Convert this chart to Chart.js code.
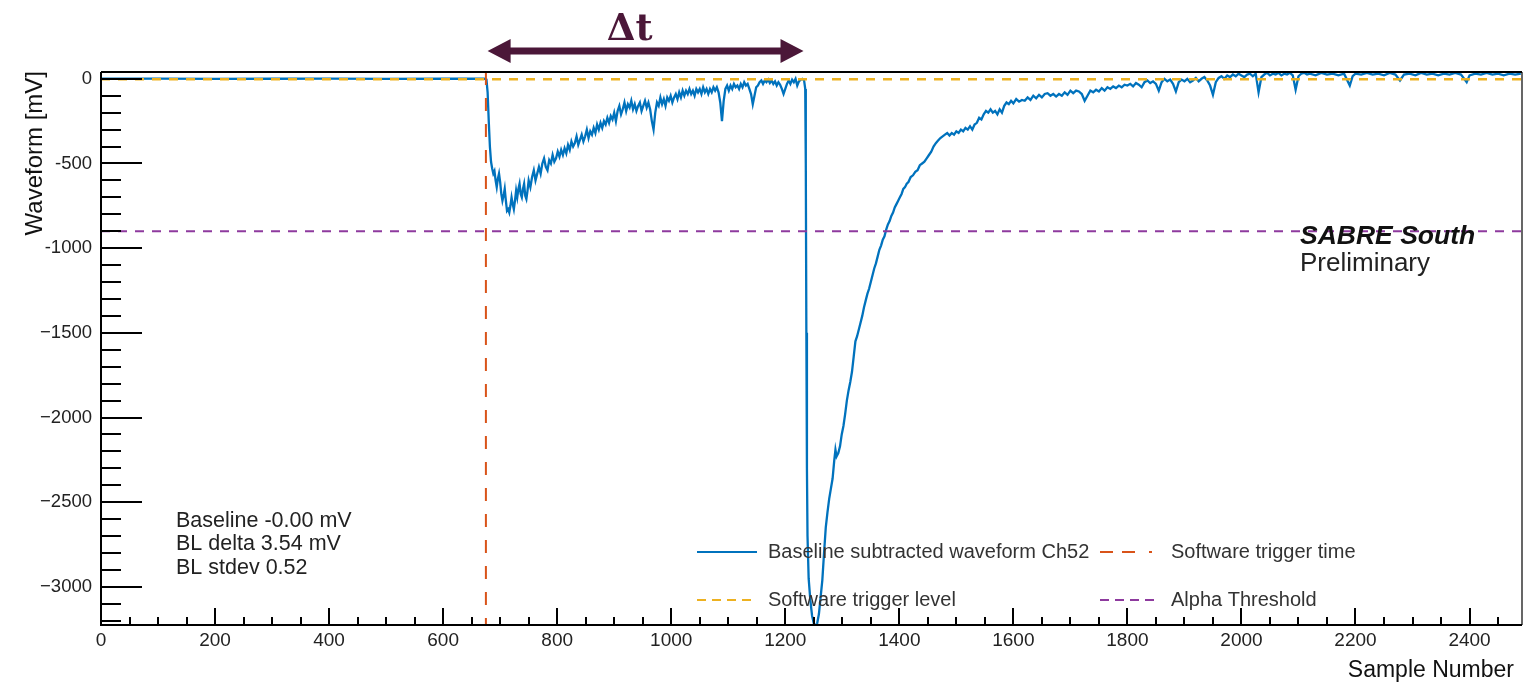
<!DOCTYPE html>
<html>
<head>
<meta charset="utf-8">
<script src="https://cdn.jsdelivr.net/npm/chart.js@4"></script>
<style>
  html, body { margin: 0; padding: 0; background: #fff; }
  canvas { display: block; }
</style>
</head>
<body>
<canvas id="wave" width="1533" height="682"></canvas>
<script>
// data: [sample, mV]
const waveform = [
  [0, 0], [100, 1], [200, -1], [300, 0], [400, 1], [500, -1], [600, 0], [672, 0], [676, -5],
  [678, -80], [680, -250], [682, -400], [684, -490], [686, -530], [688, -560], [690, -545], [692, -600],
  [694, -640], [696, -590], [698, -560], [700, -610], [702, -680], [704, -720], [706, -690], [708, -650],
  [710, -720], [712, -780], [714, -770], [716, -790], [718, -750], [720, -700], [722, -740], [724, -770],
  [726, -720], [728, -660], [730, -700], [732, -650], [734, -620], [736, -680], [738, -700], [740, -650],
  [742, -620], [744, -690], [746, -710], [748, -660], [750, -600], [753, -640], [756, -580], [759, -540],
  [762, -600], [765, -560], [768, -520], [771, -560], [774, -500], [777, -470], [780, -520], [783, -540],
  [786, -480], [789, -500], [792, -450], [795, -490], [798, -470], [801, -430], [804, -460], [807, -420],
  [810, -450], [813, -410], [816, -440], [819, -390], [822, -420], [825, -370], [828, -400], [831, -380],
  [834, -340], [837, -390], [840, -360], [843, -330], [846, -370], [849, -340], [852, -300], [855, -350],
  [858, -310], [861, -330], [864, -290], [867, -320], [870, -270], [873, -300], [876, -260], [879, -290],
  [882, -250], [885, -270], [888, -230], [891, -260], [894, -220], [897, -240], [900, -200], [903, -250],
  [906, -190], [909, -160], [912, -210], [915, -180], [918, -140], [921, -190], [924, -150], [927, -170],
  [930, -130], [933, -180], [936, -150], [939, -190], [942, -160], [945, -140], [948, -190], [951, -160],
  [954, -130], [957, -170], [960, -140], [963, -180], [966, -250], [969, -300], [972, -200], [975, -140],
  [978, -160], [981, -110], [984, -150], [987, -120], [990, -160], [993, -110], [996, -130], [999, -100],
  [1002, -140], [1005, -110], [1008, -90], [1011, -120], [1014, -80], [1017, -110], [1020, -70], [1023, -100],
  [1026, -70], [1029, -90], [1032, -60], [1035, -90], [1038, -70], [1041, -100], [1044, -60], [1047, -80],
  [1050, -60], [1053, -90], [1056, -50], [1059, -80], [1062, -60], [1065, -90], [1068, -60], [1071, -80],
  [1074, -50], [1077, -70], [1080, -50], [1083, -80], [1086, -140], [1089, -250], [1092, -130], [1095, -60],
  [1098, -40], [1101, -70], [1104, -40], [1107, -60], [1110, -30], [1113, -50], [1116, -40], [1119, -60],
  [1122, -30], [1125, -50], [1128, -20], [1131, -40], [1134, -30], [1137, -60], [1140, -90], [1143, -150],
  [1146, -100], [1149, -50], [1152, -40], [1155, -20], [1158, -10], [1161, -30], [1164, -10], [1167, -20],
  [1170, -5], [1173, -25], [1176, -10], [1179, -30], [1182, -15], [1185, -40], [1188, -20], [1191, -35],
  [1194, -60], [1197, -90], [1200, -60], [1203, -30], [1206, -10], [1209, -30], [1212, -5], [1215, -20],
  [1218, 0], [1221, -40], [1224, -15], [1227, -5], [1230, 0], [1233, -10], [1235, -60],
  [1236, -500], [1237, -1500], [1238, -2300], [1239, -2700], [1241, -2950], [1244, -3080], [1247, -3170],
  [1250, -3215], [1253, -3230], [1256, -3215], [1259, -3160], [1262, -3060], [1265, -2960], [1268, -2800],
  [1271, -2650], [1274, -2560], [1277, -2480], [1280, -2420], [1283, -2360], [1286, -2250], [1288, -2190],
  [1290, -2230], [1293, -2210], [1296, -2170], [1299, -2100], [1302, -2050], [1305, -1980], [1308, -1900],
  [1311, -1840], [1314, -1790], [1317, -1730], [1320, -1640], [1323, -1550], [1326, -1520], [1329, -1480],
  [1332, -1440], [1335, -1400], [1338, -1350], [1341, -1310], [1344, -1270], [1347, -1240], [1350, -1200],
  [1353, -1160], [1356, -1120], [1359, -1090], [1362, -1050], [1365, -1010], [1368, -985], [1371, -950],
  [1374, -930], [1377, -890], [1380, -860], [1383, -840], [1386, -810], [1389, -790], [1392, -760],
  [1395, -740], [1398, -720], [1401, -700], [1404, -680], [1407, -650], [1410, -640], [1413, -620],
  [1416, -610], [1420, -580], [1424, -570], [1428, -550], [1432, -540], [1436, -510], [1440, -500],
  [1444, -490], [1448, -470], [1452, -450], [1456, -430], [1460, -400], [1464, -380], [1468, -365],
  [1472, -350], [1476, -340], [1480, -330], [1484, -320], [1488, -335], [1492, -320], [1496, -330],
  [1500, -310], [1504, -320], [1508, -300], [1512, -310], [1516, -290], [1520, -300], [1524, -280],
  [1528, -300], [1532, -270], [1536, -260], [1540, -230], [1544, -240], [1548, -210], [1552, -190],
  [1556, -200], [1560, -180], [1564, -200], [1568, -190], [1572, -210], [1576, -180], [1580, -200],
  [1584, -160], [1588, -140], [1592, -150], [1596, -130], [1600, -145], [1605, -120], [1610, -135],
  [1615, -125], [1620, -130], [1625, -110], [1630, -125], [1635, -100], [1640, -115], [1645, -95],
  [1650, -110], [1655, -90], [1660, -85], [1665, -100], [1670, -90], [1675, -105], [1680, -90],
  [1685, -100], [1690, -80], [1695, -95], [1700, -70], [1705, -85], [1710, -70], [1715, -75],
  [1720, -90], [1725, -130], [1730, -100], [1735, -70], [1740, -80], [1745, -65], [1750, -75],
  [1755, -55], [1760, -70], [1765, -50], [1770, -60], [1775, -45], [1780, -55], [1785, -40],
  [1790, -50], [1795, -35], [1800, -40], [1805, -30], [1810, -45], [1815, -25], [1820, -35],
  [1825, -50], [1830, -20], [1835, -10], [1840, -25], [1845, -15], [1850, -30], [1855, -70],
  [1860, -20], [1865, 0], [1870, -15], [1875, -5], [1880, -30], [1885, -75], [1890, -20],
  [1895, -5], [1900, -15], [1905, 0], [1910, -20], [1915, -10], [1920, 5], [1925, -15],
  [1930, 0], [1935, 10], [1940, -10], [1945, -40], [1950, -95], [1955, -20], [1960, 5],
  [1965, 15], [1970, 0], [1975, 20], [1980, 10], [1985, 25], [1990, 15], [1995, 30],
  [2000, 20], [2005, 10], [2010, 25], [2015, 30], [2020, 15], [2025, 30], [2030, -80],
  [2035, 10], [2040, 25], [2045, 35], [2050, 20], [2055, 30], [2060, 25], [2065, 35],
  [2070, 20], [2075, 30], [2080, 25], [2085, 35], [2090, 20], [2095, -65], [2100, 15],
  [2105, 30], [2110, 35], [2115, 25], [2120, 30], [2130, 20], [2140, 35], [2150, 25],
  [2160, 30], [2170, 20], [2180, 30], [2190, -40], [2195, 15], [2200, 30], [2210, 25],
  [2220, 35], [2230, 25], [2240, 30], [2250, 20], [2260, 35], [2270, 25], [2278, -10],
  [2285, 25], [2295, 30], [2305, 20], [2315, 35], [2325, 25], [2335, 30], [2345, 20],
  [2355, 30], [2365, 25], [2375, 35], [2385, 25], [2395, -20], [2400, 20], [2410, 30],
  [2420, 25], [2430, 35], [2440, 25], [2450, 30], [2460, 20], [2470, 30], [2480, 25], [2490, 30]
];

const triggerTime = 675;      // sample
const triggerLevel = -3;      // mV
const alphaThreshold = -900;  // mV
const deltaT = [678, 1232];   // arrow span, samples

const xRange = [0, 2492];
const yRange = [-3225, 40];
const xTickValues = [0, 200, 400, 600, 800, 1000, 1200, 1400, 1600, 1800, 2000, 2200, 2400];
const yTickValues = [0, -500, -1000, -1500, -2000, -2500, -3000];
const yTickLabels = ['0', '-500', '-1000', '\u22121500', '\u22122000', '\u22122500', '\u22123000'];

const seriesLabels = ['Software trigger time', 'Alpha Threshold', 'Software trigger level', 'Baseline subtracted waveform Ch52'];
const statsLines = ['Baseline -0.00 mV', 'BL delta 3.54 mV', 'BL stdev 0.52'];

const FONT = '"Liberation Sans", Arial, Helvetica, sans-serif';
const C_BLUE = '#0072BD', C_ORANGE = '#D95319', C_YELLOW = '#EDB120', C_PURPLE = '#8E3A9E';
const C_DT = '#4B1738';

// draws the ROOT-style frame, inner ticks, legend and annotations
const decorations = {
  id: 'decorations',
  afterDatasetsDraw(chart) {
    const { ctx, chartArea: a, scales: { x, y } } = chart;
    ctx.save();

    // frame
    ctx.strokeStyle = '#000';
    ctx.lineWidth = 2;
    ctx.beginPath();
    ctx.moveTo(a.left, a.top); ctx.lineTo(a.left, a.bottom); ctx.lineTo(a.right, a.bottom);
    ctx.moveTo(a.left, a.top); ctx.lineTo(a.right, a.top);
    ctx.stroke();
    ctx.lineWidth = 1.2;
    ctx.beginPath();
    ctx.moveTo(a.right, a.top); ctx.lineTo(a.right, a.bottom);
    ctx.stroke();

    // ticks inside the frame
    ctx.lineWidth = 2;
    ctx.beginPath();
    for (let v = 0; v >= yRange[0]; v -= 100) {
      const py = Math.round(y.getPixelForValue(v));
      const len = v % 500 === 0 ? 41 : 20;
      ctx.moveTo(a.left, py); ctx.lineTo(a.left + len, py);
    }
    for (let v = 50; v <= xRange[1]; v += 50) {
      const px = Math.round(x.getPixelForValue(v));
      const len = v % 200 === 0 ? 17 : 8;
      ctx.moveTo(px, a.bottom); ctx.lineTo(px, a.bottom - len);
    }
    ctx.stroke();

    // axis titles
    ctx.fillStyle = '#111';
    ctx.font = '23px ' + FONT;
    ctx.textBaseline = 'alphabetic';
    ctx.textAlign = 'right';
    ctx.fillText('Sample Number', 1514, 677);
    ctx.save();
    ctx.font = '24px ' + FONT;
    ctx.translate(42, 71);
    ctx.rotate(-Math.PI / 2);
    ctx.fillText('Waveform [mV]', 0, 0);
    ctx.restore();

    // legend
    const slots = [
      { ds: 3, x: 697, y: 552 }, { ds: 0, x: 1100, y: 552 },
      { ds: 2, x: 697, y: 600 }, { ds: 1, x: 1100, y: 600 }
    ];
    const legendDash = [[], [13, 9, 13, 14, 3], [9, 6], [9, 6]];
    ctx.font = '20px ' + FONT;
    ctx.textAlign = 'left';
    ctx.textBaseline = 'middle';
    slots.forEach((s, i) => {
      const ds = chart.data.datasets[s.ds];
      ctx.strokeStyle = ds.borderColor;
      ctx.lineWidth = 2;
      ctx.setLineDash(legendDash[i]);
      ctx.beginPath();
      ctx.moveTo(s.x, s.y); ctx.lineTo(s.x + 60, s.y);
      ctx.stroke();
      ctx.setLineDash([]);
      ctx.fillStyle = '#333';
      ctx.fillText(ds.label, s.x + 71, s.y);
    });

    // baseline stats
    ctx.font = '21.5px ' + FONT;
    ctx.fillStyle = '#222';
    statsLines.forEach((t, i) => ctx.fillText(t, 176, 521 + i * 23.5));

    // experiment tag
    ctx.fillStyle = '#111';
    ctx.font = 'italic bold 26.5px ' + FONT;
    ctx.textBaseline = 'alphabetic';
    ctx.fillText('SABRE South', 1300, 244);
    ctx.fillStyle = '#222';
    ctx.font = '26px ' + FONT;
    ctx.fillText('Preliminary', 1300, 271);

    // delta-t arrow above the frame
    const x0 = x.getPixelForValue(deltaT[0]), x1 = x.getPixelForValue(deltaT[1]);
    const ay = 51, head = 23, hh = 12;
    ctx.fillStyle = C_DT;
    ctx.fillRect(x0 + head - 2, ay - 3.5, x1 - x0 - 2 * head + 4, 7);
    ctx.beginPath();
    ctx.moveTo(x0, ay); ctx.lineTo(x0 + head, ay - hh); ctx.lineTo(x0 + head, ay + hh); ctx.closePath();
    ctx.moveTo(x1, ay); ctx.lineTo(x1 - head, ay - hh); ctx.lineTo(x1 - head, ay + hh); ctx.closePath();
    ctx.fill();
    ctx.font = 'bold 37px "DejaVu Serif", serif';
    ctx.textAlign = 'center';
    ctx.fillText('\u0394t', x0 + (x1 - x0) * 0.45, 40);

    ctx.restore();
  }
};

const ctx = document.getElementById('wave').getContext('2d');
new Chart(ctx, {
  type: 'line',
  data: {
    datasets: [
      {
        label: seriesLabels[0],
        data: [{ x: triggerTime, y: yRange[1] }, { x: triggerTime, y: yRange[0] }],
        borderColor: C_ORANGE, borderWidth: 2, borderDash: [13, 13]
      },
      {
        label: seriesLabels[1],
        data: [{ x: xRange[0], y: alphaThreshold }, { x: xRange[1], y: alphaThreshold }],
        borderColor: C_PURPLE, borderWidth: 2, borderDash: [9, 8]
      },
      {
        label: seriesLabels[2],
        data: [{ x: xRange[0], y: triggerLevel }, { x: xRange[1], y: triggerLevel }],
        borderColor: C_YELLOW, borderWidth: 2.5, borderDash: [9, 8]
      },
      {
        label: seriesLabels[3],
        data: waveform.map(p => ({ x: p[0], y: p[1] })),
        borderColor: C_BLUE, borderWidth: 2.3, tension: 0
      }
    ]
  },
  options: {
    responsive: false,
    animation: false,
    elements: { point: { radius: 0 } },
    layout: { padding: { top: 72, right: 11, left: 0, bottom: 0 } },
    plugins: { legend: { display: false }, tooltip: { enabled: false } },
    scales: {
      x: {
        type: 'linear',
        min: xRange[0], max: xRange[1],
        grid: { display: false },
        border: { display: false },
        afterBuildTicks: s => { s.ticks = xTickValues.map(v => ({ value: v })); },
        afterFit: s => { s.height = 57; s.paddingLeft = 0; s.paddingRight = 0; },
        ticks: {
          font: { family: FONT, size: 19 }, color: '#222', padding: -4, maxRotation: 0, autoSkip: false,
          callback: v => String(v)
        }
      },
      y: {
        type: 'linear',
        min: yRange[0], max: yRange[1],
        grid: { display: false },
        border: { display: false },
        afterBuildTicks: s => { s.ticks = yTickValues.map(v => ({ value: v })); },
        afterFit: s => { s.width = 101; s.paddingTop = 0; s.paddingBottom = 0; },
        ticks: {
          font: { family: FONT, size: 18.5 }, color: '#222', padding: 1, autoSkip: false,
          callback: v => yTickLabels[yTickValues.indexOf(v)]
        }
      }
    }
  },
  plugins: [decorations]
});
</script>
</body>
</html>
